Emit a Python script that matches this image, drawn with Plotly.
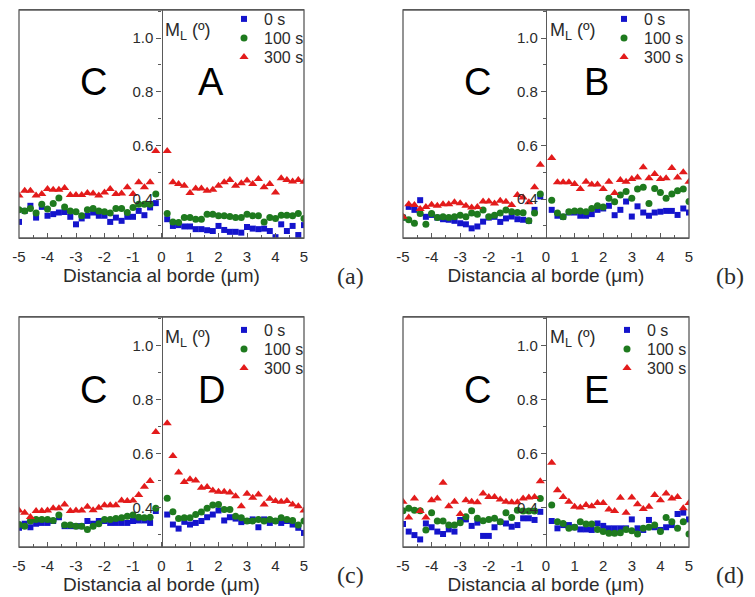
import plotly.graph_objects as go

# distance to the border (um), left side (C) and right side
x_left = [-5.0, -4.8, -4.6, -4.4, -4.2, -4.0, -3.8, -3.6, -3.4, -3.2, -3.0, -2.8, -2.6,
          -2.4, -2.2, -2.0, -1.8, -1.6, -1.4, -1.2, -1.0, -0.8, -0.6, -0.4, -0.2]
x_right = [0.2, 0.4, 0.6, 0.8, 1.0, 1.2, 1.4, 1.6, 1.8, 2.0, 2.2, 2.4, 2.6,
           2.8, 3.0, 3.2, 3.4, 3.6, 3.8, 4.0, 4.2, 4.4, 4.6, 4.8, 5.0]
x_all = x_left + x_right

x_ticks = [-5, -4, -3, -2, -1, 0, 1, 2, 3, 4, 5]
x_tick_text = ["-5", "-4", "-3", "-2", "-1", "0", "1", "2", "3", "4", "5"]

series_names = ["0 s", "100 s", "300 s"]

# (a) C / A
a_0s = [0.315, 0.356, 0.375, 0.331, 0.371, 0.338, 0.344, 0.350, 0.352, 0.334, 0.306, 0.328, 0.338,
        0.350, 0.338, 0.338, 0.315, 0.331, 0.319, 0.334, 0.334, 0.356, 0.340, 0.369, 0.385,
        0.325, 0.300, 0.303, 0.298, 0.298, 0.288, 0.288, 0.284, 0.281, 0.300, 0.285, 0.278, 0.278,
        0.275, 0.296, 0.290, 0.288, 0.290, 0.281, 0.258, 0.306, 0.281, 0.300, 0.266, 0.303]
a_100s = [0.360, 0.356, 0.365, 0.348, 0.381, 0.363, 0.384, 0.404, 0.371, 0.356, 0.353, 0.338, 0.360,
          0.365, 0.356, 0.353, 0.348, 0.365, 0.365, 0.350, 0.369, 0.381, 0.381, 0.381, 0.419,
          0.346, 0.315, 0.313, 0.331, 0.331, 0.325, 0.325, 0.344, 0.344, 0.338, 0.338, 0.335, 0.331,
          0.331, 0.344, 0.338, 0.338, 0.315, 0.331, 0.328, 0.340, 0.340, 0.338, 0.346, 0.328]
a_300s = [0.413, 0.431, 0.431, 0.413, 0.419, 0.438, 0.435, 0.435, 0.441, 0.415, 0.415, 0.415, 0.423,
          0.421, 0.413, 0.425, 0.438, 0.419, 0.421, 0.444, 0.419, 0.463, 0.444, 0.463, 0.579,
          0.579, 0.463, 0.456, 0.450, 0.423, 0.440, 0.440, 0.431, 0.435, 0.450, 0.463, 0.471, 0.450,
          0.459, 0.469, 0.456, 0.475, 0.444, 0.456, 0.425, 0.478, 0.471, 0.466, 0.471, 0.465]

# (b) C / B
b_0s = [0.331, 0.371, 0.360, 0.396, 0.334, 0.341, 0.331, 0.325, 0.323, 0.319, 0.310, 0.306, 0.291,
        0.298, 0.316, 0.331, 0.334, 0.315, 0.328, 0.335, 0.325, 0.323, 0.319, 0.360, 0.410,
        0.360, 0.338, 0.334, 0.350, 0.350, 0.338, 0.338, 0.344, 0.360, 0.365, 0.375, 0.340, 0.360,
        0.391, 0.335, 0.373, 0.350, 0.338, 0.350, 0.353, 0.356, 0.356, 0.341, 0.365, 0.350]
b_100s = [0.331, 0.323, 0.310, 0.346, 0.306, 0.346, 0.331, 0.334, 0.331, 0.334, 0.340, 0.334, 0.348,
          0.344, 0.359, 0.334, 0.340, 0.348, 0.359, 0.353, 0.350, 0.349, 0.319, 0.348, 0.419,
          0.396, 0.348, 0.334, 0.353, 0.356, 0.356, 0.353, 0.365, 0.375, 0.371, 0.403, 0.390, 0.415,
          0.428, 0.403, 0.438, 0.444, 0.384, 0.440, 0.425, 0.403, 0.419, 0.431, 0.438, 0.391]
b_300s = [0.334, 0.381, 0.378, 0.363, 0.371, 0.379, 0.375, 0.381, 0.381, 0.388, 0.385, 0.375, 0.369,
          0.371, 0.391, 0.391, 0.384, 0.394, 0.390, 0.378, 0.415, 0.406, 0.388, 0.444, 0.528,
          0.553, 0.463, 0.463, 0.463, 0.456, 0.438, 0.465, 0.454, 0.454, 0.438, 0.465, 0.423, 0.471,
          0.465, 0.475, 0.481, 0.519, 0.478, 0.494, 0.475, 0.478, 0.516, 0.481, 0.500, 0.465]

# (c) C / D
c_0s = [0.326, 0.341, 0.328, 0.341, 0.344, 0.344, 0.351, 0.365, 0.332, 0.332, 0.332, 0.332, 0.351,
        0.341, 0.351, 0.351, 0.344, 0.344, 0.344, 0.344, 0.351, 0.353, 0.353, 0.344, 0.388,
        0.375, 0.338, 0.323, 0.348, 0.338, 0.344, 0.351, 0.365, 0.375, 0.390, 0.353, 0.365, 0.360,
        0.347, 0.351, 0.357, 0.328, 0.357, 0.344, 0.351, 0.344, 0.351, 0.338, 0.326, 0.307]
c_100s = [0.338, 0.332, 0.351, 0.357, 0.357, 0.357, 0.353, 0.373, 0.336, 0.336, 0.332, 0.332, 0.320,
          0.332, 0.341, 0.357, 0.357, 0.360, 0.363, 0.369, 0.373, 0.365, 0.363, 0.365, 0.398,
          0.435, 0.385, 0.360, 0.363, 0.363, 0.375, 0.384, 0.398, 0.410, 0.412, 0.394, 0.394, 0.369,
          0.363, 0.351, 0.351, 0.357, 0.351, 0.357, 0.351, 0.363, 0.357, 0.353, 0.336, 0.351]
c_300s = [0.390, 0.382, 0.366, 0.388, 0.388, 0.390, 0.398, 0.398, 0.412, 0.388, 0.390, 0.390, 0.404,
          0.391, 0.400, 0.409, 0.409, 0.409, 0.427, 0.425, 0.427, 0.447, 0.478, 0.499, 0.680,
          0.712, 0.591, 0.530, 0.495, 0.505, 0.501, 0.474, 0.477, 0.464, 0.459, 0.459, 0.456, 0.443,
          0.406, 0.452, 0.437, 0.449, 0.412, 0.433, 0.425, 0.422, 0.425, 0.412, 0.406, 0.390]

# (d) C / E
d_0s = [0.340, 0.312, 0.299, 0.283, 0.342, 0.328, 0.312, 0.303, 0.320, 0.312, 0.355, 0.357, 0.333,
        0.345, 0.296, 0.296, 0.328, 0.348, 0.342, 0.330, 0.336, 0.361, 0.361, 0.355, 0.385,
        0.351, 0.324, 0.336, 0.336, 0.328, 0.320, 0.320, 0.318, 0.342, 0.333, 0.324, 0.324, 0.324,
        0.324, 0.357, 0.324, 0.318, 0.355, 0.328, 0.318, 0.328, 0.336, 0.377, 0.382, 0.357]
d_100s = [0.389, 0.398, 0.391, 0.389, 0.318, 0.382, 0.351, 0.351, 0.336, 0.336, 0.345, 0.367, 0.389,
          0.361, 0.352, 0.357, 0.361, 0.348, 0.382, 0.364, 0.391, 0.388, 0.388, 0.388, 0.434,
          0.410, 0.348, 0.342, 0.324, 0.328, 0.348, 0.340, 0.340, 0.320, 0.312, 0.306, 0.306, 0.308,
          0.320, 0.315, 0.303, 0.324, 0.328, 0.336, 0.312, 0.364, 0.348, 0.324, 0.348, 0.303]
d_300s = [0.422, 0.364, 0.434, 0.388, 0.364, 0.428, 0.434, 0.492, 0.406, 0.422, 0.377, 0.428, 0.422,
          0.420, 0.453, 0.440, 0.440, 0.431, 0.422, 0.420, 0.420, 0.434, 0.438, 0.440, 0.498,
          0.566, 0.465, 0.440, 0.422, 0.404, 0.401, 0.410, 0.406, 0.418, 0.418, 0.394, 0.388, 0.437,
          0.382, 0.438, 0.413, 0.395, 0.404, 0.447, 0.428, 0.453, 0.434, 0.440, 0.398, 0.418]

panels = [
    ("a", "A", [a_0s, a_100s, a_300s]),
    ("b", "B", [b_0s, b_100s, b_300s]),
    ("c", "D", [c_0s, c_100s, c_300s]),
    ("d", "E", [d_0s, d_100s, d_300s]),
]

# the page body adds an 8px margin, so the figure is drawn 8px smaller and shifted
OFF = 8
W, H = 755 - OFF, 597 - OFF
FONT = "Liberation Sans, Arial, sans-serif"
AXIS_COLOR = "#5a5a5a"
TEXT_COLOR = "#2b2b2b"
colors = ["#1414cc", "#1e7a1e", "#e31b1b"]
symbols = ["square", "circle", "triangle-up"]
sizes = [6, 7, 8]

# pixel boxes (left, top, right, bottom) of each panel, in page pixels
boxes = [(19, 10, 304, 238), (403, 10, 689, 238), (19, 317, 304, 547), (403, 317, 689, 547)]
label_pos = [(350, 276), (730, 276), (350, 575), (730, 575)]
# legend left edge and first row centre, one small legend per entry (rows 19px apart)
legend_pos = [(224, 19), (604, 19), (224, 330), (607, 330)]
ROW_GAP = 19


def px_x(p):
    return (p - OFF) / W


def px_y(p):
    return 1 - (p - OFF) / H


def main():
    fig = go.Figure()
    for i, (tag, right_letter, values) in enumerate(panels):
        n = "" if i == 0 else str(i + 1)
        left, top, right, bottom = boxes[i]
        xd = [px_x(left), px_x(right)]
        yd = [px_y(bottom), px_y(top)]
        lgx, lgy = legend_pos[i]

        for j, (name, vals, col, sym, sz) in enumerate(zip(series_names, values, colors, symbols, sizes)):
            k = i * 3 + j
            legend_name = "legend" if k == 0 else "legend" + str(k + 1)
            fig.add_trace(
                go.Scatter(
                    x=x_all,
                    y=vals,
                    mode="markers",
                    name=name,
                    marker=dict(color=col, symbol=sym, size=sz, line=dict(width=0)),
                    xaxis="x" + n,
                    yaxis="y" + n,
                    legend=legend_name,
                )
            )
            fig.update_layout(
                {
                    legend_name: dict(
                        x=px_x(lgx),
                        y=px_y(lgy + j * ROW_GAP),
                        xanchor="left",
                        yanchor="middle",
                        bgcolor="rgba(0,0,0,0)",
                        font=dict(size=16, color=TEXT_COLOR, family=FONT),
                        itemwidth=30,
                    )
                }
            )

        fig.update_layout(
            {
                "xaxis" + n: dict(
                    domain=xd,
                    anchor="y" + n,
                    range=[-5, 5],
                    tickvals=x_ticks,
                    ticktext=x_tick_text,
                    ticks="inside",
                    ticklen=5,
                    tickcolor=AXIS_COLOR,
                    ticklabelstandoff=5,
                    minor=dict(dtick=0.5, tick0=0, ticks="inside", ticklen=3, tickcolor=AXIS_COLOR),
                    showline=True,
                    linecolor=AXIS_COLOR,
                    linewidth=1.3,
                    mirror=True,
                    showgrid=False,
                    zeroline=False,
                    tickfont=dict(size=15, color=TEXT_COLOR, family=FONT),
                    title=dict(
                        text="Distancia al borde (μm)",
                        font=dict(size=19, color=TEXT_COLOR, family=FONT),
                        standoff=2,
                    ),
                ),
                "yaxis" + n: dict(
                    domain=yd,
                    anchor="free",
                    position=(xd[0] + xd[1]) / 2,
                    range=[0.255, 1.105],
                    tick0=0,
                    dtick=0.2,
                    tickformat=".1f",
                    ticks="outside",
                    ticklen=5,
                    tickcolor=AXIS_COLOR,
                    minor=dict(dtick=0.1, tick0=0, ticks="outside", ticklen=3, tickcolor=AXIS_COLOR),
                    showline=True,
                    linecolor=AXIS_COLOR,
                    linewidth=1.3,
                    showgrid=False,
                    zeroline=False,
                    tickfont=dict(size=15, color=TEXT_COLOR, family=FONT),
                ),
            }
        )

        # frame of the panel
        fig.add_shape(
            type="rect",
            xref="x" + n + " domain",
            yref="y" + n + " domain",
            x0=0, x1=1, y0=0, y1=1,
            line=dict(color=AXIS_COLOR, width=1.3),
            layer="above",
        )

        fig.add_annotation(
            xref="x" + n, yref="y" + n, x=0.06, y=1.025,
            text="M<sub>L</sub> (º)", showarrow=False, xanchor="left", yanchor="middle",
            font=dict(size=18, color=TEXT_COLOR, family=FONT),
        )
        fig.add_annotation(
            xref="x" + n, yref="y" + n, x=-2.4, y=0.835,
            text="C", showarrow=False, xanchor="center", yanchor="middle",
            font=dict(size=38, color="black", family=FONT),
        )
        fig.add_annotation(
            xref="x" + n, yref="y" + n, x=1.75, y=0.835,
            text=right_letter, showarrow=False, xanchor="center", yanchor="middle",
            font=dict(size=38, color="black", family=FONT),
        )
        lx, ly = label_pos[i]
        fig.add_annotation(
            xref="paper", yref="paper", x=px_x(lx), y=px_y(ly),
            text="(" + tag + ")", showarrow=False, xanchor="center", yanchor="middle",
            font=dict(size=24, color=TEXT_COLOR, family="Liberation Serif, Times New Roman, serif"),
        )

    fig.update_layout(
        width=W,
        height=H,
        margin=dict(l=0, r=0, t=0, b=0, autoexpand=False),
        paper_bgcolor="white",
        plot_bgcolor="white",
        showlegend=True,
    )

    fig.write_html("out.html")


if __name__ == "__main__":
    main()
